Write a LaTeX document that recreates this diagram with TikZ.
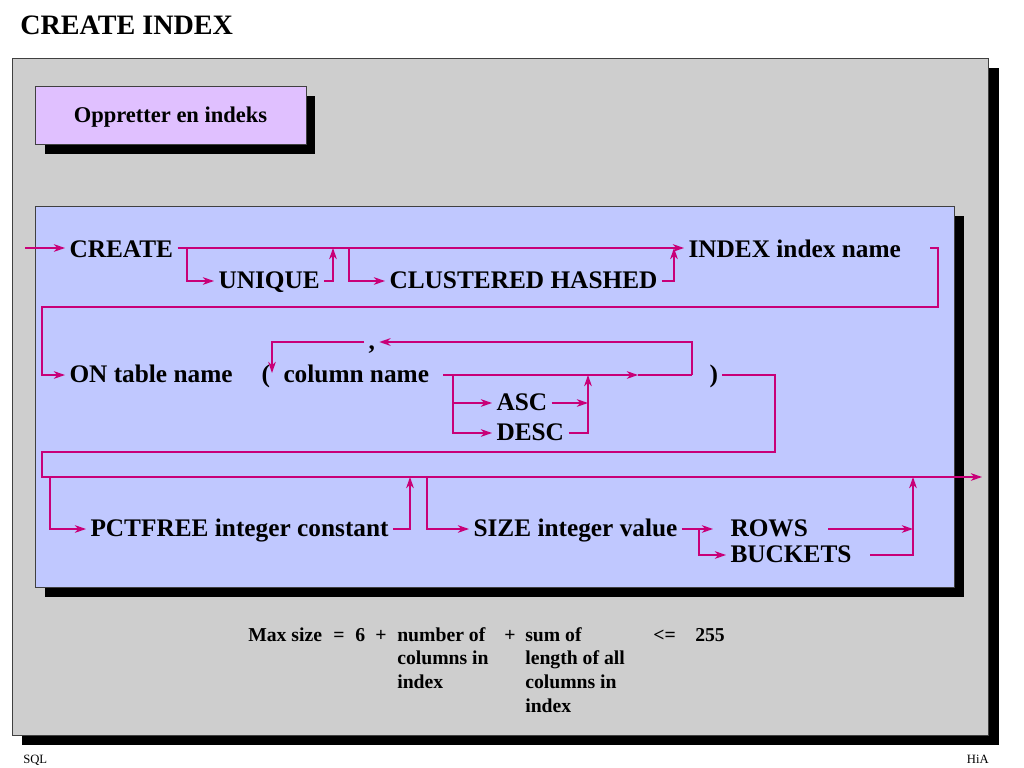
\documentclass[tikz,border=0pt]{standalone}
\usepackage{fontspec}
\setmainfont{Liberation Serif}
\usepackage{tikz}
\usetikzlibrary{arrows.meta}
\definecolor{synline}{RGB}{200,0,120}
\definecolor{panelgray}{RGB}{206,206,206}
\definecolor{panelblue}{RGB}{192,200,255}
\definecolor{boxviolet}{RGB}{224,192,255}

\tikzset{
  ln/.style={draw=synline, line width=1.1pt},
  arr/.style={ln, -{Stealth[length=8pt,width=5.5pt,inset=2.5pt]}},
  kw/.style={anchor=west, inner xsep=3pt, inner ysep=0pt, text height=12pt, text depth=2pt,
    font=\fontsize{18}{21}\selectfont\bfseries},
  kwtop/.style={kw, text height=13.5pt, text depth=0pt},
  note/.style={anchor=base west, inner sep=0pt, font=\fontsize{14}{17}\selectfont\bfseries},
  panel/.style={draw=black!75, line width=0.6pt},
}

\begin{document}
\begin{tikzpicture}[x=0.025cm, y=-0.025cm]
    \useasboundingbox (0,0) rectangle (1024,768);

    % Title
    \node[anchor=base west, inner sep=0pt, font=\fontsize{20}{24}\selectfont\bfseries] (title) at (20,35) {CREATE INDEX};

    % Grey panel with shadow
    \fill[black] (22,68) rectangle (999,745);
    \filldraw[panel, fill=panelgray] (12,58) rectangle (988,735);

    % Intro box
    \fill[black] (45,96) rectangle (315,154);
    \filldraw[panel, fill=boxviolet] (35,86) rectangle (306,144);
    \node[anchor=base, inner sep=0pt, font=\fontsize{16}{19}\selectfont\bfseries] (intro) at (170.5,123) {Oppretter en indeks};

    % Syntax panel
    \fill[black] (45,216) rectangle (964,597);
    \filldraw[panel, fill=panelblue] (35,206) rectangle (954,587);

    % Row 1
    \node[kwtop] (create) at (65,248) {CREATE};
    \node[kw] (unique) at (214,281) {UNIQUE};
    \node[kw] (clus) at (385,281) {CLUSTERED HASHED};
    \node[kwtop] (index) at (684,248) {INDEX index name};
    \coordinate (in1) at (25,248);
    \coordinate (b1) at (187,248);
    \coordinate (j1) at (333,248);
    \coordinate (b2) at (349,248);
    \coordinate (j2) at (674,248);
    \coordinate (e1) at (930,248);
    \coordinate (c1) at (938,307);
    \coordinate (c2) at (42,307);

    \draw[arr] (in1) -- (create);
    \draw[arr] (create) -- (index);
    \draw[arr] (b1) |- (unique);
    \draw[arr] (unique) -| (j1);
    \draw[arr] (b2) |- (clus);
    \draw[arr] (clus) -| (j2);

    % Row 2
    \node[kw] (on) at (65,375) {ON table name};
    \node[kw] (lpar) at (257,375) {(};
    \node[kw] (col) at (279,375) {column name};
    \node[kw] (comma) at (364,342) {,};
    \node[kw] (asc) at (492,403) {ASC};
    \node[kw] (desc) at (492,433) {DESC};
    \node[kw] (rpar) at (705,375) {)};
    \coordinate (s2) at (443,375);
    \coordinate (b3) at (453,375);
    \coordinate (m1) at (638,375);
    \coordinate (j3) at (588,375);
    \coordinate (j3a) at (588,403);
    \coordinate (k1) at (692,375);
    \coordinate (k5) at (272,373);
    \coordinate (c3) at (775,452);
    \coordinate (c4) at (42,452);

    \draw[arr] (e1) -| (c1) -- (c2) |- (on);
    \draw[arr] (k1) |- (comma);
    \draw[arr] (comma) -| (k5);
    \draw[arr] (s2) -- (m1);
    \draw[ln] (m1) -- (k1);
    \draw[arr] (b3) |- (asc);
    \draw[arr] (b3) |- (desc);
    \draw[arr] (asc) -- (j3a);
    \draw[arr] (desc) -| (j3);

    % Row 3
    \node[kw] (pct) at (86,529) {PCTFREE integer constant};
    \node[kw] (size) at (469,529) {SIZE integer value};
    \node[kw] (rows) at (726,529) {ROWS};
    \node[kw] (buckets) at (726,555) {BUCKETS};
    \coordinate (out) at (982,477);
    \coordinate (b4) at (50,477);
    \coordinate (j4) at (410,477);
    \coordinate (b5) at (427,477);
    \coordinate (t5) at (713,529);
    \coordinate (b6) at (699,529);
    \coordinate (e5) at (828,529);
    \coordinate (j5a) at (913,529);
    \coordinate (e6) at (870,555);
    \coordinate (j5) at (913,477);

    \draw[arr] (rpar) -| (c3) -- (c4) |- (out);
    \draw[arr] (b4) |- (pct);
    \draw[arr] (pct) -| (j4);
    \draw[arr] (b5) |- (size);
    \draw[arr] (size) -- (t5);
    \draw[arr] (b6) |- (buckets);
    \draw[arr] (e5) -- (j5a);
    \draw[arr] (e6) -| (j5);

    % Size formula
    \node[note] (msize) at (248,641) {Max size};
    \node[note] (eq) at (333,641) {=};
    \node[note] (six) at (355,641) {6};
    \node[note] (plusa) at (375,641) {+};
    \node[note] (ncol) at (397,641) {\begin{tabular}[t]{@{}l@{}}number of\\columns in\\index\end{tabular}};
    \node[note] (plusb) at (504,641) {+};
    \node[note] (sumlen) at (525,641) {\begin{tabular}[t]{@{}l@{}}sum of\\length of all\\columns in\\index\end{tabular}};
    \node[note] (le) at (653,641) {<=};
    \node[note] (val) at (695,641) {255};

    % Footer
    \node[anchor=base west, inner sep=0pt, font=\fontsize{9}{10}\selectfont] (foot1) at (23,763) {SQL};
    \node[anchor=base east, inner sep=0pt, font=\fontsize{9}{10}\selectfont] (foot2) at (989,763) {HiA};
\end{tikzpicture}
\end{document}
